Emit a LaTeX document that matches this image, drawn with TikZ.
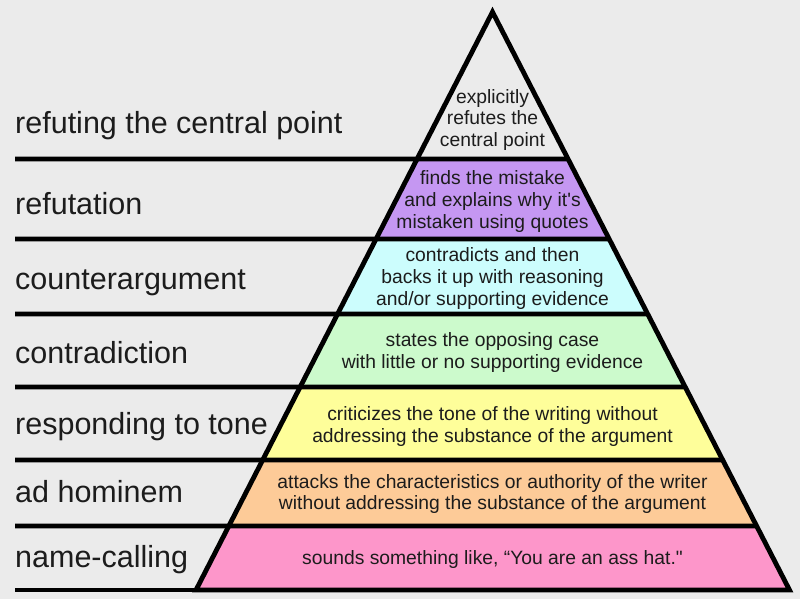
\documentclass[tikz,border=0pt]{standalone}
\usepackage{fontspec}
\setmainfont{Liberation Sans}[Ligatures=TeXOff]
\usetikzlibrary{calc}
\definecolor{bg}{HTML}{EBEBEB}
\definecolor{ctop}{HTML}{EBEBEB}
\definecolor{cpurple}{HTML}{C597F2}
\definecolor{ccyan}{HTML}{CCFDFD}
\definecolor{cgreen}{HTML}{CCFACC}
\definecolor{cyellow}{HTML}{FEFE9A}
\definecolor{corange}{HTML}{FDCB98}
\definecolor{cpink}{HTML}{FD96CA}
\definecolor{ink}{HTML}{1C1C1C}
\tikzset{
  edge/.style={line width=4.8pt, draw=black},
  divline/.style={line width=4.8pt, draw=black},
  lab/.style={anchor=base west, inner sep=0pt, font=\fontsize{30.5}{36}\selectfont, text=ink},
  desc/.style={align=center, inner sep=0pt, font=\fontsize{19.3}{21.6}\selectfont, text=ink}
}
\begin{document}
\begin{tikzpicture}[x=1pt,y=-1pt]
\fill[bg] (0,0) rectangle (800,599);
\useasboundingbox (0,0) rectangle (800,599);
\coordinate (A) at (492.5,12);
\coordinate (BL) at (196,590);
\coordinate (BR) at (789.5,590);
\begin{scope}
  \clip (A) -- (BL) -- (BR) -- cycle;
  \fill[ctop] (0,0) rectangle (800,159);
  \fill[cpurple] (0,159) rectangle (800,239);
  \fill[ccyan] (0,239) rectangle (800,314);
  \fill[cgreen] (0,314) rectangle (800,387);
  \fill[cyellow] (0,387) rectangle (800,460);
  \fill[corange] (0,460) rectangle (800,526);
  \fill[cpink] (0,526) rectangle (800,590);
\end{scope}
\foreach \y [count=\i] in {159,239,314,387,460,526} {
  \coordinate (L\i) at (15,\y);
  \coordinate (R\i) at ($(A)!{(\y-12)/578}!(BR)$);
  \draw[divline] (L\i) -- (R\i);
}
\coordinate (L7) at (15,590);
\draw[divline] (L7) -- (BR);
\draw[edge] (A) -- (BL) -- (BR) -- cycle;
% left labels
\node[lab] (t1) at (15,133) {refuting the central point};
\node[lab] (t2) at (15,214.5) {refutation};
\node[lab] (t3) at (15,289.5) {counterargument};
\node[lab] (t4) at (15,363) {contradiction};
\node[lab] (t5) at (15,434) {responding to tone};
\node[lab] (t6) at (15,502) {ad hominem};
\node[lab] (t7) at (15,567) {name-calling};
% descriptions
\node[desc] (d1) at (492.5,120) {explicitly\\refutes the\\central point};
\node[desc] (d2) at (492.5,201.5) {finds the mistake\\and explains why it's\\mistaken using quotes};
\node[desc] (d3) at (492.5,278.5) {contradicts and then\\backs it up with reasoning\\and/or supporting evidence};
\node[desc] (d4) at (492.5,352.5) {states the opposing case\\with little or no supporting evidence};
\node[desc] (d5) at (492.5,426.5) {criticizes the tone of the writing without\\addressing the substance of the argument};
\node[desc] (d6) at (492.5,494) {attacks the characteristics or authority of the writer\\without addressing the substance of the argument};
\node[desc] (d7) at (492.5,559.5) {sounds something like, “You are an ass hat."};
\end{tikzpicture}
\end{document}
